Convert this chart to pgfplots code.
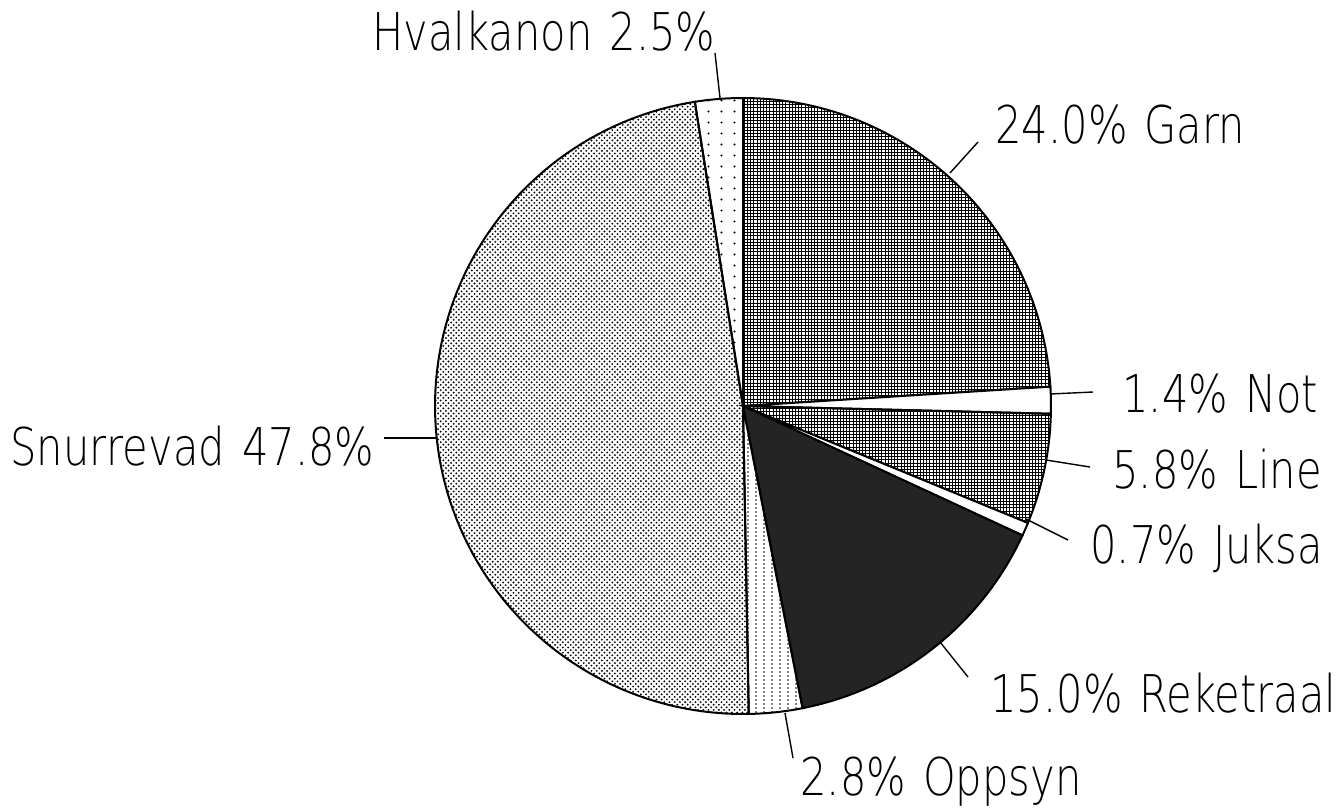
\documentclass[border=0pt]{standalone}
\usepackage{pgfplots}
\pgfplotsset{compat=1.18}
\usetikzlibrary{patterns}
\usepackage{fontspec}
\setmainfont{DejaVu Sans ExtraLight}[FakeStretch=0.8, WordSpace=1.3]

\pgfdeclarepatternformonly{finedots}{\pgfpoint{-0.6pt}{-0.6pt}}{\pgfpoint{3.2pt}{3.2pt}}{\pgfpoint{2.6pt}{2.6pt}}{%
  \pgfpathcircle{\pgfpoint{0.65pt}{0.65pt}}{0.52pt}\pgfusepath{fill}%
  \pgfpathcircle{\pgfpoint{1.95pt}{1.95pt}}{0.52pt}\pgfusepath{fill}}
\pgfdeclarepatternformonly{finegrid}{\pgfpoint{-0.2pt}{-0.2pt}}{\pgfpoint{1.8pt}{1.8pt}}{\pgfpoint{1.6pt}{1.6pt}}{%
  \pgfsetlinewidth{0.22pt}%
  \pgfpathmoveto{\pgfpoint{0pt}{0.8pt}}\pgfpathlineto{\pgfpoint{1.6pt}{0.8pt}}%
  \pgfpathmoveto{\pgfpoint{0.8pt}{0pt}}\pgfpathlineto{\pgfpoint{0.8pt}{1.6pt}}%
  \pgfusepath{stroke}}
\pgfdeclarepatternformonly{middots}{\pgfpoint{-0.5pt}{-0.5pt}}{\pgfpoint{4.5pt}{2.5pt}}{\pgfpoint{4pt}{2pt}}{%
  \pgfpathcircle{\pgfpoint{2pt}{1pt}}{0.4pt}\pgfusepath{fill}}
\pgfdeclarepatternformonly{sparsedots}{\pgfpoint{-0.5pt}{-0.5pt}}{\pgfpoint{7pt}{6pt}}{\pgfpoint{6.5pt}{5.5pt}}{%
  \pgfpathcircle{\pgfpoint{3.25pt}{2.75pt}}{0.6pt}\pgfusepath{fill}}

% shares in percent (clockwise from 12 o'clock):
% Garn 24.0, Not 1.4, Line 5.8, Juksa 0.7, Reketraal 15.0,
% Oppsyn 2.8, Snurrevad 47.8, Hvalkanon 2.5  (1% = 3.6 degrees)

\begin{document}
\begin{tikzpicture}
\begin{axis}[
  width=669.5pt, height=405pt, scale only axis,
  xmin=0, xmax=1339, ymin=0, ymax=810, y dir=reverse,
  hide axis, clip=false,
  every axis plot/.append style={line width=1pt, black},
]
\path (axis cs:0,0) (axis cs:1339,810);
% Garn 24.0
\addplot[draw=black, pattern=finegrid, domain=3.6:90, samples=60, variable=\t]
  ({743+308*cos(\t)}, {406-308*sin(\t)}) -- (axis cs:743,406) -- cycle;
% Not 1.4
\addplot[draw=black, fill=white, domain=-1.44:3.6, samples=10, variable=\t]
  ({743+308*cos(\t)}, {406-308*sin(\t)}) -- (axis cs:743,406) -- cycle;
% Line 5.8
\addplot[draw=black, pattern=finegrid, domain=-22.32:-1.44, samples=20, variable=\t]
  ({743+308*cos(\t)}, {406-308*sin(\t)}) -- (axis cs:743,406) -- cycle;
% Juksa 0.7
\addplot[draw=black, fill=white, domain=-24.84:-22.32, samples=6, variable=\t]
  ({743+308*cos(\t)}, {406-308*sin(\t)}) -- (axis cs:743,406) -- cycle;
% Reketraal 15.0
\addplot[draw=black, fill=black!86, domain=-78.84:-24.84, samples=40, variable=\t]
  ({743+308*cos(\t)}, {406-308*sin(\t)}) -- (axis cs:743,406) -- cycle;
% Oppsyn 2.8
\addplot[draw=black, pattern=middots, domain=-88.92:-78.84, samples=10, variable=\t]
  ({743+308*cos(\t)}, {406-308*sin(\t)}) -- (axis cs:743,406) -- cycle;
% Snurrevad 47.8
\addplot[draw=black, pattern=finedots, domain=-261:-88.92, samples=100, variable=\t]
  ({743+308*cos(\t)}, {406-308*sin(\t)}) -- (axis cs:743,406) -- cycle;
% Hvalkanon 2.5
\addplot[draw=black, pattern=sparsedots, domain=-270:-261, samples=10, variable=\t]
  ({743+308*cos(\t)}, {406-308*sin(\t)}) -- (axis cs:743,406) -- cycle;

% leader lines
\addplot[line width=0.7pt] coordinates {(715,53) (720,98)};
\addplot[line width=0.7pt] coordinates {(978,142) (950,173)};
\addplot[line width=0.7pt] coordinates {(1050,394) (1093,392)};
\addplot[line width=0.7pt] coordinates {(1046,460) (1090,467)};
\addplot[line width=0.7pt] coordinates {(1026,519) (1068,540)};
\addplot[line width=0.7pt] coordinates {(940,642) (968,677)};
\addplot[line width=0.7pt] coordinates {(785,713) (793,758)};
\addplot[line width=0.7pt] coordinates {(384,438) (437,438)};

\begin{scope}[every node/.style={inner sep=0pt, font=\fontsize{26}{30}\selectfont}]
\node[anchor=base west] at (axis cs:372,50) {Hvalkanon 2.5\%};
\node[anchor=base west] at (axis cs:995,143) {24.0\% Garn};
\node[anchor=base west] at (axis cs:1122,412) {1.4\% Not};
\node[anchor=base west] at (axis cs:1112,488) {5.8\% Line};
\node[anchor=base west] at (axis cs:1090,563) {0.7\% Juksa};
\node[anchor=base west] at (axis cs:990,712) {15.0\% Reketraal};
\node[anchor=base west] at (axis cs:800,795) {2.8\% Oppsyn};
\node[anchor=base west] at (axis cs:10,465) {Snurrevad 47.8\%};
\end{scope}
\end{axis}
\end{tikzpicture}
\end{document}
